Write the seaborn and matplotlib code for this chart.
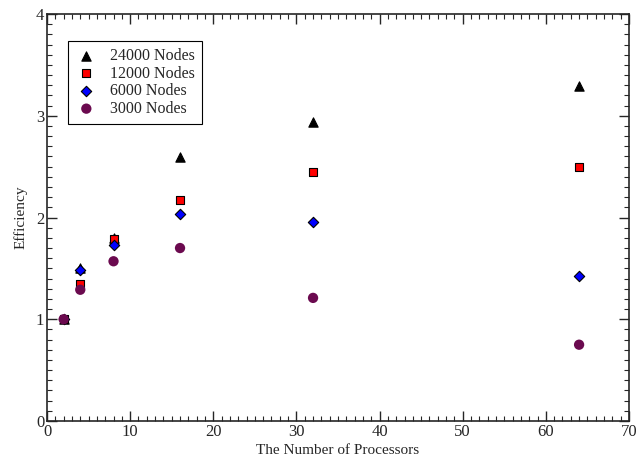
import matplotlib
matplotlib.use("Agg")
import matplotlib.pyplot as plt
import seaborn as sns
import pandas as pd
from matplotlib.ticker import MultipleLocator

processors = [2, 4, 8, 16, 32, 64]
eff_24000 = [1.00, 1.50, 1.80, 2.59, 2.94, 3.29]
eff_12000 = [1.00, 1.35, 1.79, 2.17, 2.45, 2.50]
eff_6000 = [1.00, 1.48, 1.73, 2.03, 1.96, 1.43]
eff_3000 = [1.00, 1.29, 1.57, 1.70, 1.21, 0.75]
series_names = ["24000 Nodes", "12000 Nodes", "6000 Nodes", "3000 Nodes"]

rows = []
for name, vals in zip(series_names, [eff_24000, eff_12000, eff_6000, eff_3000]):
    for p, v in zip(processors, vals):
        rows.append({"Processors": p, "Efficiency": v, "Series": name})
df = pd.DataFrame(rows)

sns.set_style("ticks")
plt.rcParams["font.family"] = ["Liberation Serif", "DejaVu Serif"]

fig = plt.figure(figsize=(6.37, 4.62), dpi=100)
ax = fig.add_axes([0.0738, 0.0887, 0.9136, 0.881])

palette = {"24000 Nodes": "black", "12000 Nodes": "#ff0000",
           "6000 Nodes": "#0000ff", "3000 Nodes": "#6b0a4f"}
markers = {"24000 Nodes": "^", "12000 Nodes": "s",
           "6000 Nodes": "D", "3000 Nodes": "o"}
sizes_map = {"24000 Nodes": 45, "12000 Nodes": 36, "6000 Nodes": 28, "3000 Nodes": 55}

for name in series_names:
    sub = df[df["Series"] == name]
    ec = "none" if name == "3000 Nodes" else "black"
    sns.scatterplot(data=sub, x="Processors", y="Efficiency", ax=ax,
                    color=palette[name], marker=markers[name], s=sizes_map[name],
                    edgecolor=ec, linewidth=0.8, label=name, zorder=3)

ax.set_xlim(0, 70)
ax.set_ylim(0, 4)
ax.xaxis.set_major_locator(MultipleLocator(10))
ax.xaxis.set_minor_locator(MultipleLocator(1))
ax.yaxis.set_major_locator(MultipleLocator(1))
ax.yaxis.set_minor_locator(MultipleLocator(0.1))
ax.tick_params(which="both", direction="in", top=True, right=True, labelsize=12, pad=2)
ax.tick_params(which="major", length=7, width=1)
ax.tick_params(which="minor", length=3.5, width=0.8)
for s in ax.spines.values():
    s.set_linewidth(1.2)

ax.set_xlabel("The Number of Processors", fontsize=11, labelpad=3)
ax.set_ylabel("Efficiency", fontsize=11, labelpad=6)

leg = ax.legend(loc="upper left", bbox_to_anchor=(0.036, 0.934), borderaxespad=0,
                fontsize=11.5, frameon=True, fancybox=False, edgecolor="black",
                framealpha=1, handletextpad=0.8, borderpad=0.45, labelspacing=0.1,
                handlelength=1.4)
leg.get_frame().set_linewidth(0.8)

fig.savefig("out.png", dpi=100)
